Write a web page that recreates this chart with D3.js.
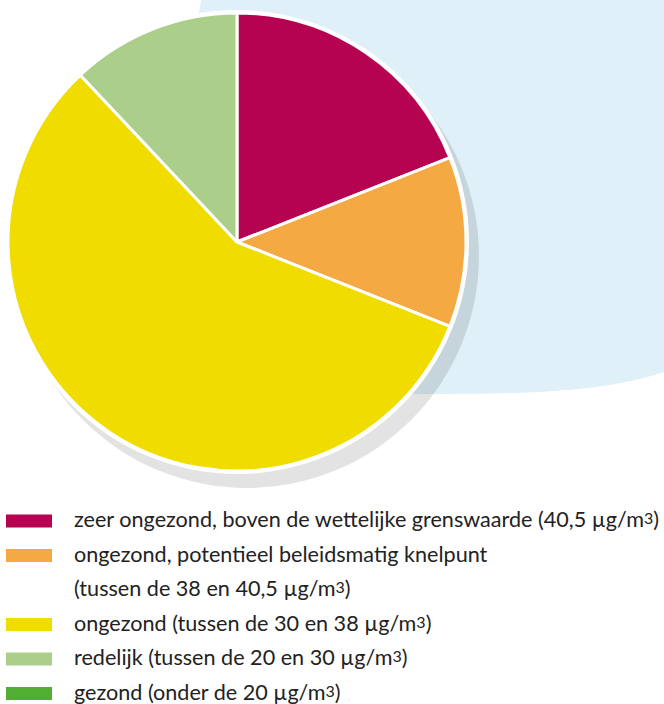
<!DOCTYPE html>
<html>
<head>
<meta charset="utf-8">
<script src="https://cdn.jsdelivr.net/npm/d3@7"></script>
<style>
  body { margin: 0; background: #fff; }
  svg { display: block; }
</style>
</head>
<body>
<script>
// categories and shares (%)
const categories = [
  'zeer ongezond, boven de wettelijke grenswaarde (40,5 µg/m3)',
  'ongezond, potentieel beleidsmatig knelpunt|(tussen de 38 en 40,5 µg/m3)',
  'ongezond (tussen de 30 en 38 µg/m3)',
  'redelijk (tussen de 20 en 30 µg/m3)',
  'gezond (onder de 20 µg/m3)'
]
const shares = [19, 12, 57, 12, 0]
const colors = ['#b50352', '#f5a942', '#f1dc00', '#abcf8a', '#52ae32']

const width = 664
const height = 704
const cx = 237
const cy = 242
const radius = 229

const svg = d3
  .select('body')
  .append('svg')
  .attr('width', width)
  .attr('height', height)

// light blue backdrop
svg
  .append('path')
  .attr('d', 'M201,0 H664 V372 C610,390 540,394 440,394 L200,394 L198,20 Z')
  .attr('fill', '#dff0f8')

// drop shadow
svg
  .append('circle')
  .attr('cx', cx + 10)
  .attr('cy', cy + 14)
  .attr('r', radius + 3)
  .attr('fill', '#000')
  .attr('fill-opacity', 0.11)

// white rim
svg
  .append('circle')
  .attr('cx', cx)
  .attr('cy', cy)
  .attr('r', radius + 3)
  .attr('fill', '#fff')

const pie = d3.pie().sort(null).value((d) => d)
const arc = d3.arc().innerRadius(0).outerRadius(radius)

svg
  .append('g')
  .attr('transform', `translate(${cx},${cy})`)
  .selectAll('path')
  .data(pie(shares).filter((d) => d.value > 0))
  .join('path')
  .attr('d', arc)
  .attr('fill', (d) => colors[d.index])
  .attr('stroke', '#fff')
  .attr('stroke-width', 3)
  .attr('stroke-linejoin', 'round')

// legend
const rowH = 34.5
const legend = svg.append('g').attr('transform', 'translate(0,527)')

let row = 0
categories.forEach((label, i) => {
  const lines = label.split('|')
  const g = legend.append('g').attr('transform', `translate(0,${row * rowH})`)
  g.append('rect')
    .attr('x', 6)
    .attr('y', -12.5)
    .attr('width', 46)
    .attr('height', 13)
    .attr('fill', colors[i])
  lines.forEach((line, j) => {
    const t = g
      .append('text')
      .attr('x', 74)
      .attr('y', j * rowH)
      .style('font', '21.6px Lato, sans-serif')
      .attr('fill', '#222')
    const parts = line.split('m3')
    t.append('tspan').text(parts[0] + (parts.length > 1 ? 'm' : ''))
    if (parts.length > 1) {
      t.append('tspan').attr('font-size', 16).attr('dy', -3).text('3')
      t.append('tspan').attr('dy', 3).text(parts[1])
    }
  })
  row += lines.length
})
</script>
</body>
</html>
